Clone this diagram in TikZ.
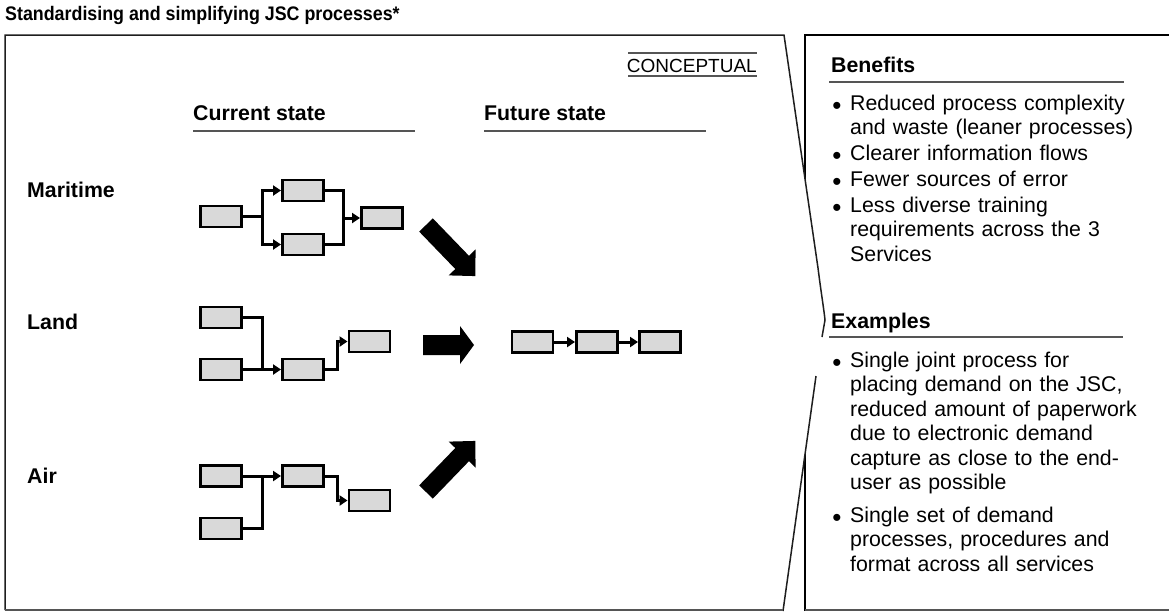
\documentclass[tikz,border=0pt]{standalone}
\usepackage{fontspec}
\setmainfont{Liberation Sans}
\usetikzlibrary{arrows.meta}
\definecolor{boxgray}{RGB}{217,217,217}
\definecolor{rulegray}{RGB}{85,85,85}
\definecolor{framegray}{RGB}{30,30,30}
\newcommand\myTitleFont{\fontsize{19.6}{22}\selectfont\bfseries}
\newcommand\myHeadFont{\fontsize{21.3}{24.5}\selectfont\bfseries}
\newcommand\myBodyFont{\fontsize{21.3}{24.5}\selectfont}
\newcommand\myTagFont{\fontsize{19}{21}\selectfont}
\begin{document}
\begin{tikzpicture}[x=1pt,y=-1pt,
  pbox/.style={draw=black, line width=2.9pt, fill=boxgray, minimum width=41pt, minimum height=21pt, inner sep=0pt},
  link/.style={line width=3pt, line join=miter},
  flow/.style={link, -{Triangle[length=8pt,width=10pt]}},
  hrule/.style={line width=2pt, draw=rulegray},
  head/.style={anchor=base west, font=\myHeadFont, inner sep=0pt},
  bullettxt/.style={anchor=base west, font=\myBodyFont, inner sep=0pt, text width=310pt, align=left},
  bulletdot/.style={anchor=base, font=\fontsize{26}{26}\selectfont, inner sep=0pt, yshift=-4pt},
  bigarrow/.style={fill=black}
]
\useasboundingbox (0,0) rectangle (1169,611);
\clip (0,0) rectangle (1169,611);

% right panel frame
\draw[line width=2pt, draw=black] (805,611) -- (805,35) -- (1175,35);
\draw[line width=1.5pt, draw=rulegray] (805,610) -- (1175,610);
% left panel (white fill covers the right panel edge)
\fill[white] (5,35) -- (784,35) -- (818,268) .. controls (821,292) and (824,310) .. (825,320) -- (822,337) -- (816,376) -- (783,611) -- (5,611) -- cycle;
\draw[line width=1.5pt, draw=framegray] (5,610) -- (5,35) -- (784,35) -- (818,268) .. controls (821,292) and (824,310) .. (825,320) -- (822,337);
\draw[line width=1.5pt, draw=framegray] (816,376) -- (783,611);
\draw[line width=1.5pt, draw=rulegray] (783,610) -- (5,610);

% title
\node[anchor=base west, font=\myTitleFont, inner sep=0pt] (title) at (5,20) {\scalebox{0.91}[1]{Standardising and simplifying JSC processes*}};

% conceptual tag
\node[anchor=base east, font=\myTagFont, inner sep=0pt] (tag) at (757,72) {CONCEPTUAL};
\draw[hrule] (628,53) -- (757,53);
\draw[hrule] (628,76) -- (757,76);

% column heads
\node[head] (cur) at (193,120) {Current state};
\draw[hrule] (193,131) -- (415,131);
\node[head] (fut) at (484,120) {Future state};
\draw[hrule] (484,131) -- (706,131);

% row labels
\node[head] (mar) at (27,197) {Maritime};
\node[head] (land) at (27,329) {Land};
\node[head] (air) at (27,483) {Air};

% Maritime process
\node[pbox] (mA) at (221,216.5) {};
\node[pbox] (mB) at (303,190.5) {};
\node[pbox] (mC) at (303,244.5) {};
\node[pbox] (mD) at (382,218) {};
\coordinate (mj) at (262,216.5);
\coordinate (mk) at (343,218);
\draw[link] (mA.east) -- (mj);
\draw[flow] (mj) |- (mB.west);
\draw[flow] (mj) |- (mC.west);
\draw[link] (mB.east) -| (mk);
\draw[link] (mC.east) -| (mk);
\draw[flow] (mk) -- (mD.west);

% Land process
\node[pbox] (lA) at (221,317.5) {};
\node[pbox] (lB) at (221,369.5) {};
\node[pbox] (lC) at (303,369.5) {};
\node[pbox] (lD) at (369.5,341.5) {};
\coordinate (lj) at (262,369.5);
\coordinate (lk) at (337,341.5);
\draw[link] (lA.east) -| (lj);
\draw[flow] (lB.east) -- (lC.west);
\draw[flow] (lC.east) -| (lk) -- (lD.west);

% Air process
\node[pbox] (aA) at (221,476) {};
\node[pbox] (aB) at (221,528.5) {};
\node[pbox] (aC) at (303,476) {};
\node[pbox] (aD) at (369.5,500.5) {};
\coordinate (aj) at (262,476);
\coordinate (ak) at (337,500.5);
\draw[flow] (aA.east) -- (aC.west);
\draw[link] (aB.east) -| (aj);
\draw[flow] (aC.east) -| (ak) -- (aD.west);

% Future process
\node[pbox] (f1) at (532.5,342) {};
\node[pbox] (f2) at (597,342) {};
\node[pbox] (f3) at (660,342) {};
\draw[flow] (f1) -- (f2);
\draw[flow] (f2) -- (f3);

% big arrows
\begin{scope}[shift={(426,225)}, rotate=-46]
  \fill[bigarrow] (0,-9.5) -- (52,-9.5) -- (52,-18.7) -- (71,0) -- (52,18.7) -- (52,9.5) -- (0,9.5) -- cycle;
\end{scope}
\begin{scope}[shift={(423,345)}]
  \fill[bigarrow] (0,-10) -- (37,-10) -- (37,-19) -- (51,0) -- (37,19) -- (37,10) -- (0,10) -- cycle;
\end{scope}
\begin{scope}[shift={(426,492)}, rotate=46]
  \fill[bigarrow] (0,-9.5) -- (52,-9.5) -- (52,-18.7) -- (71,0) -- (52,18.7) -- (52,9.5) -- (0,9.5) -- cycle;
\end{scope}

% right panel text
\node[head] (ben) at (831,72) {Benefits};
\draw[hrule] (829,82) -- (1124,82);
\node[bulletdot] (bd1) at (837,110) {•};
\node[bullettxt] (b1) at (850,110) {Reduced process complexity\\and waste (leaner processes)};
\node[bulletdot] (bd2) at (837,160) {•};
\node[bullettxt] (b2) at (850,160) {Clearer information flows};
\node[bulletdot] (bd3) at (837,186) {•};
\node[bullettxt] (b3) at (850,186) {Fewer sources of error};
\node[bulletdot] (bd4) at (837,212) {•};
\node[bullettxt] (b4) at (850,212) {Less diverse training\\requirements across the 3\\Services};

\node[head] (ex) at (831,328) {Examples};
\draw[hrule] (829,337) -- (1123,337);
\node[bulletdot] (ed1) at (837,367) {•};
\node[bullettxt] (e1) at (850,367) {Single joint process for\\placing demand on the JSC,\\reduced amount of paperwork\\due to electronic demand\\capture as close to the end-\\user as possible};
\node[bulletdot] (ed2) at (837,522) {•};
\node[bullettxt] (e2) at (850,522) {Single set of demand\\processes, procedures and\\format across all services};
\end{tikzpicture}
\end{document}
